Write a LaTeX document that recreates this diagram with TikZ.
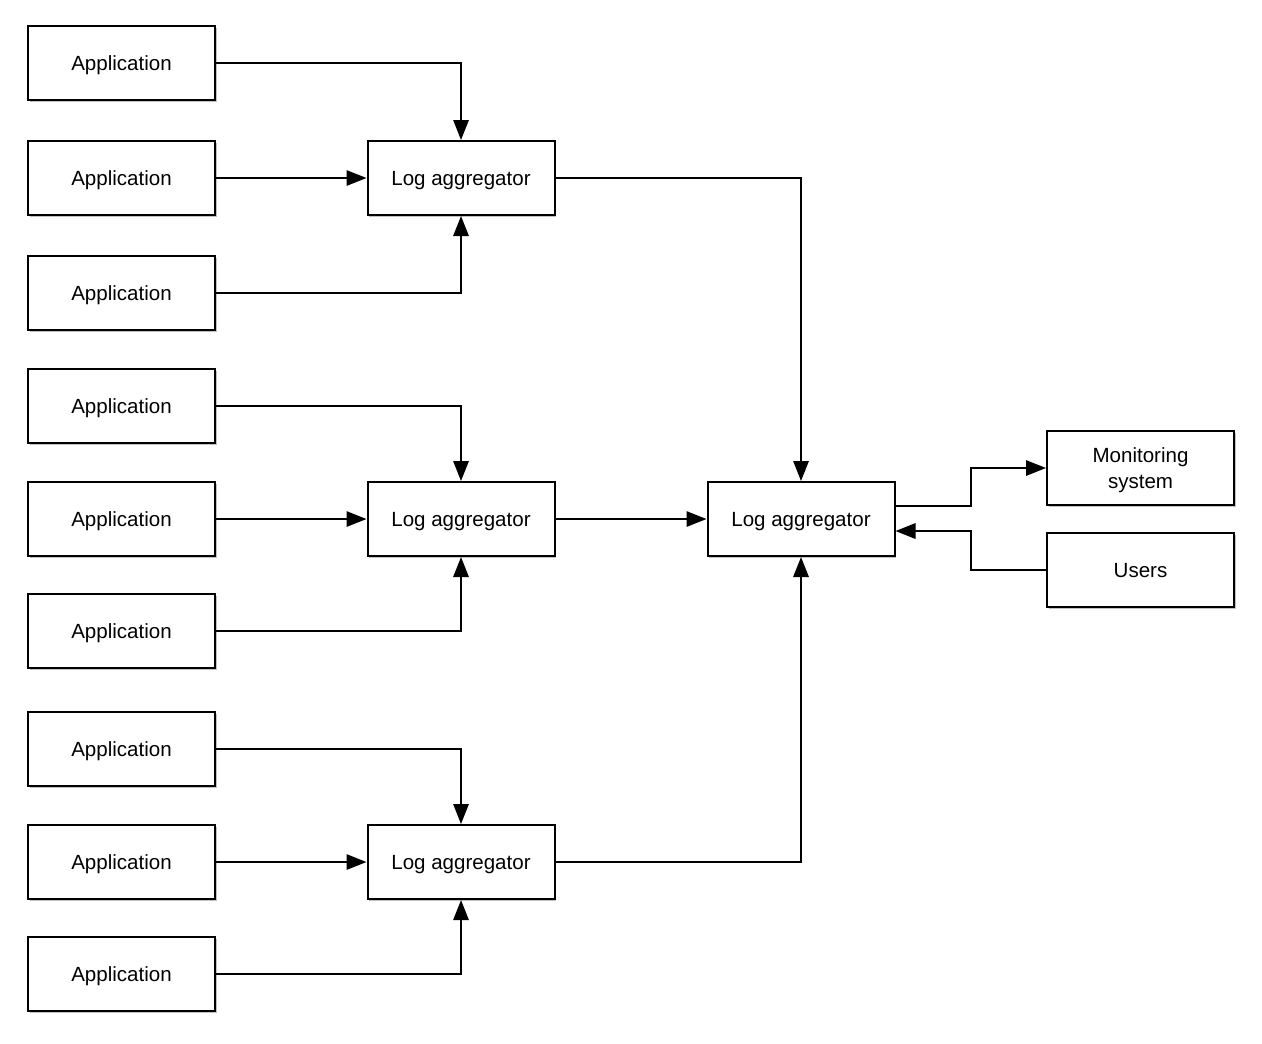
\documentclass[tikz,border=0pt]{standalone}
\usepackage{fontspec}
\setmainfont{Liberation Sans}
\usetikzlibrary{arrows.meta,shadows,positioning}
\begin{document}
\begin{tikzpicture}[x=0.75pt,y=-0.75pt,
  box/.style={draw=black,line width=1.5pt,fill=white,minimum width=140.25pt,minimum height=55.5pt,inner sep=0pt,align=center,
    font=\fontsize{15.4}{19}\selectfont,text depth=0pt,
    drop shadow={shadow xshift=1.2pt,shadow yshift=-1.8pt,opacity=0.35,fill=black!70}},
  conn/.style={line width=1.5pt,-{Triangle[length=15pt,width=11.5pt]}}]
\useasboundingbox (0,0) rectangle (1262,1043);
% applications
\foreach \n/\y in {1/63,2/178,3/293,4/406,5/519,6/631,7/749,8/862,9/974}
  \node[box] (app\n) at (121.5,\y) {Application};
\node[box] (agg1) at (461,178) {Log aggregator};
\node[box] (agg2) at (461,519) {Log aggregator};
\node[box] (agg3) at (461,862) {Log aggregator};
\node[box] (central) at (801,519) {Log aggregator};
\node[box] (mon) at (1140.5,468) {Monitoring\\system};
\node[box] (users) at (1140.5,570) {Users};
% group 1
\draw[conn] (app1.east) -| (agg1.north);
\draw[conn] (app2.east) -- (agg1.west);
\draw[conn] (app3.east) -| (agg1.south);
% group 2
\draw[conn] (app4.east) -| (agg2.north);
\draw[conn] (app5.east) -- (agg2.west);
\draw[conn] (app6.east) -| (agg2.south);
% group 3
\draw[conn] (app7.east) -| (agg3.north);
\draw[conn] (app8.east) -- (agg3.west);
\draw[conn] (app9.east) -| (agg3.south);
% to central
\draw[conn] (agg1.east) -| (central.north);
\draw[conn] (agg2.east) -- (central.west);
\draw[conn] (agg3.east) -| (central.south);
% right side
\coordinate (c1) at (971,506);
\coordinate (c2) at (971,531);
\draw[conn] (central.east |- c1) -- (c1) |- (mon.west);
\draw[conn] (users.west) -| (c2) -- (central.east |- c2);
\end{tikzpicture}
\end{document}
